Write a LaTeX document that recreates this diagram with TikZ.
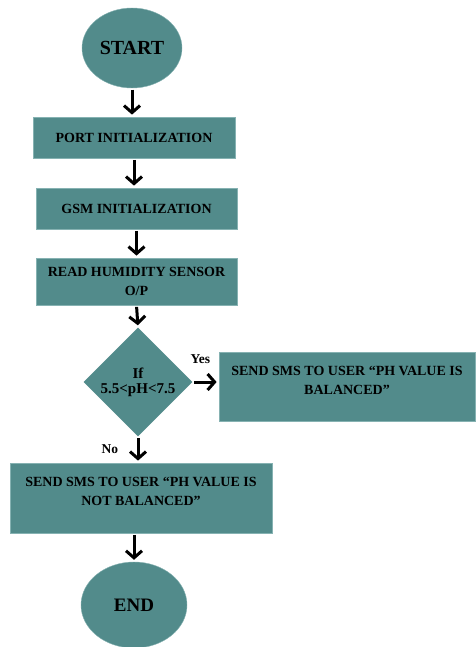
\documentclass[tikz,border=0pt]{standalone}
\usepackage{fontspec}
\setmainfont{Liberation Serif}
\usetikzlibrary{arrows.meta,shapes.geometric}
\definecolor{tealbox}{HTML}{528B8B}
\definecolor{tealedge}{HTML}{86B2B2}

\begin{document}
\begin{tikzpicture}[
  x=1pt,y=-1pt,
  font=\bfseries,
  terminal/.style={draw=tealedge,fill=tealbox,ellipse,inner sep=0pt},
  block/.style={draw=tealedge,line width=0.8pt,fill=tealbox,rectangle,inner sep=0pt,align=center,font=\fontsize{14}{19}\selectfont\bfseries},
  decision/.style={fill=tealbox,diamond,inner sep=0pt,minimum width=109pt,minimum height=109pt,align=center,font=\fontsize{15}{15}\selectfont\bfseries},
  to/.style={-{Straight Barb[length=7pt,width=16pt]},line width=3pt,shorten <=1.5pt,shorten >=2pt},
  lbl/.style={font=\fontsize{13.5}{15}\selectfont\bfseries}]

  \useasboundingbox (0,0) rectangle (475,647);

  % Nodes placed at fixed coordinates
  \node[terminal,minimum width=100pt,minimum height=80pt,font=\fontsize{20}{24}\selectfont\bfseries] (start) at (132,48) {START};
  \node[block,minimum width=202pt,minimum height=41pt] (port) at (134,137.5) {PORT INITIALIZATION};
  \node[block,minimum width=201pt,minimum height=41pt] (gsm) at (136.5,208.5) {GSM INITIALIZATION};
  \node[block,minimum width=201pt,minimum height=47pt] (read) at (136.5,281.5) {READ HUMIDITY SENSOR\\O/P};
  \node[decision] (check) at (138,382) {If\\5.5<pH<7.5};
  \node[block,minimum width=256pt,minimum height=69pt] (yesbox) at (347,386.5) {SEND SMS TO USER “PH VALUE IS\\BALANCED”\\[-6pt]};
  \node[block,minimum width=262pt,minimum height=70pt] (nobox) at (141,498) {SEND SMS TO USER “PH VALUE IS\\NOT BALANCED”\\[-6pt]};
  \node[terminal,minimum width=106pt,minimum height=86pt,font=\fontsize{19}{24}\selectfont\bfseries] (end) at (134,605) {END};

  % Connectors
  \draw[to] (start.south) -- (start.south |- port.north);
  \draw[to] (port.south) -- (port.south |- gsm.north);
  \draw[to] (gsm.south) -- (read.north);
  \draw[to] (read.south) -- (check.north);
  \draw[to] (check.east) -- node[above,pos=0.3,yshift=14pt,lbl] {Yes} (check.east -| yesbox.west);
  \draw[to] (check.south) -- node[left,xshift=-15pt,yshift=1pt,lbl] {No} (check.south |- nobox.north);
  \draw[to] (nobox.south -| end.north) -- (end.north);
\end{tikzpicture}
\end{document}
